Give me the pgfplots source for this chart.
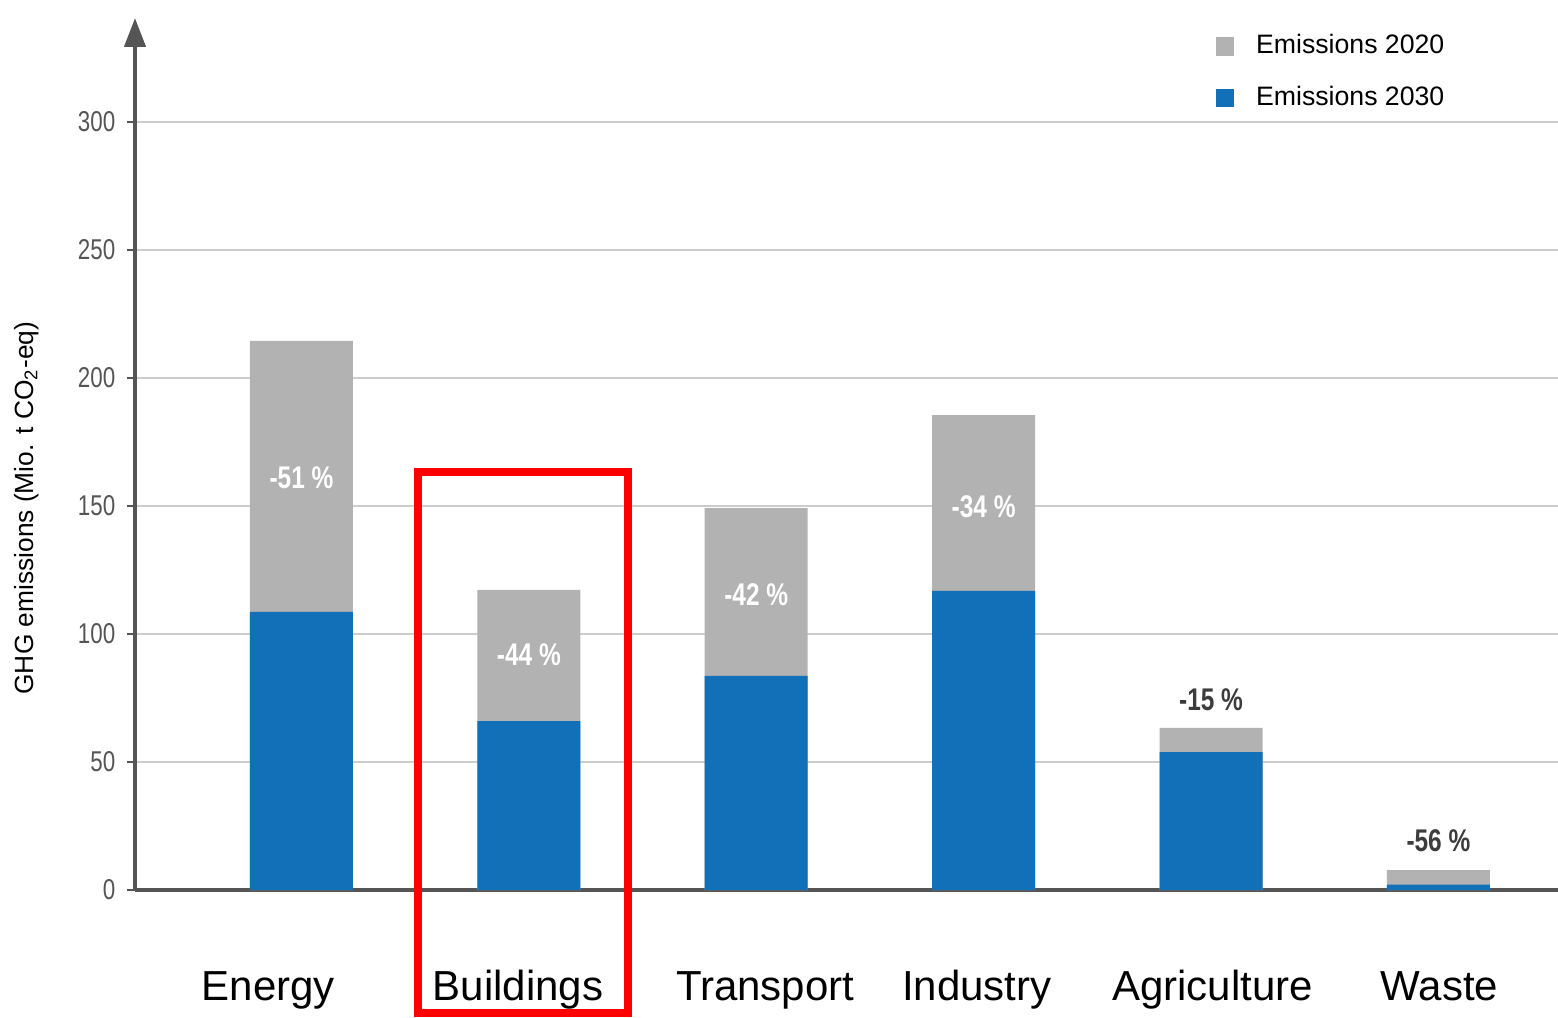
\documentclass[border=0pt]{standalone}
\usepackage{pgfplots}
\pgfplotsset{compat=1.18}
\usepackage{pgfplotstable}
\usepackage{fontspec}
\setmainfont{Liberation Sans}
\usetikzlibrary{arrows.meta}
\definecolor{gbar}{RGB}{178,178,178}
\definecolor{bbar}{RGB}{17,112,184}
\definecolor{axgray}{RGB}{85,85,85}
\definecolor{gridgray}{RGB}{205,205,205}
\definecolor{pctdark}{RGB}{60,60,60}
\newcommand{\cond}[1]{\scalebox{0.78}[1]{#1}}
\pgfplotstableread{
x y2020 y2030
0 214.5 108.6
1 117.2 66.0
2 149.2 83.6
3 185.5 116.8
4 63.3 53.9
5 7.8 2.1
}\emis
\begin{document}
\begin{tikzpicture}
\begin{axis}[
  scale only axis,
  width=426.9pt, height=261.6pt,
  xmin=-0.732, xmax=5.526,
  ymin=0, ymax=340.6,
  clip=false,
  axis x line=bottom,
  axis y line=left,
  x axis line style={-, line width=1.3pt, color=axgray},
  y axis line style={-{Triangle[length=8.7pt,width=6.3pt]}, line width=1.3pt, color=axgray},
  ytick={0,50,...,300},
  ymajorgrids,
  grid style={gridgray, line width=0.35pt},
  tick align=outside,
  major tick length=2.4pt,
  y tick style={axgray, line width=0.5pt},
  x tick style={draw=none},
  yticklabel={\cond{\pgfmathprintnumber[assume math mode=true]{\tick}}},
  yticklabel style={font=\fontsize{8.6}{10}\selectfont, text=axgray, xshift=0pt},
  xtick={-0.145,0.953,2.039,2.970,4.007,5.004},
  xticklabels={Energy,Buildings,Transport,Industry,Agriculture,Waste},
  xticklabel style={font=\fontsize{12.6}{14}\selectfont, anchor=base, yshift=-30.6pt},
  ylabel={GHG emissions (Mio. t CO\textsubscript{2}-eq)},
  ylabel style={font=\fontsize{7.9}{10}\selectfont, at={(axis description cs:-0.0759,0.438)}, anchor=center, rotate=0},
  ybar, bar width=30.9pt, bar shift=0pt,
  legend style={draw=none, fill=none, at={(axis description cs:0.759,0.9897)}, anchor=north west,
    font=\fontsize{8}{9.6}\selectfont, row sep=4.2pt, inner sep=0pt,
    /tikz/every odd column/.append style={column sep=4.5pt}},
  legend cell align=left,
  legend image code/.code={\fill[#1] (0pt,-2.8pt) rectangle (5.6pt,2.8pt);},
]
\addplot[fill=gbar, draw=none] table[x=x, y=y2020] {\emis};
\addlegendentry{Emissions 2020}
\addplot[fill=bbar, draw=none] table[x=x, y=y2030] {\emis};
\addlegendentry{Emissions 2030}
\coordinate (SW) at (rel axis cs:0,0);
\begin{scope}[font=\bfseries\fontsize{9.4}{10}\selectfont]
\node[text=white] at (axis cs:0,161) {\cond{-51 \%}};
\node[text=white] at (axis cs:1,91.8) {\cond{-44 \%}};
\node[text=white] at (axis cs:2,115.2) {\cond{-42 \%}};
\node[text=white] at (axis cs:3,149.6) {\cond{-34 \%}};
\node[text=pctdark] at (axis cs:4,74.2) {\cond{-15 \%}};
\node[text=pctdark] at (axis cs:5,19.1) {\cond{-56 \%}};
\end{scope}
\draw[red, line width=2.4pt] (axis cs:0.512,163.1) rectangle (axis cs:1.436,-48.0);
\end{axis}
\pgfresetboundingbox
\path[use as bounding box] ([shift={(-40.5pt,-38.1pt)}]SW) rectangle ([shift={(426.9pt,267pt)}]SW);
\end{tikzpicture}
\end{document}
